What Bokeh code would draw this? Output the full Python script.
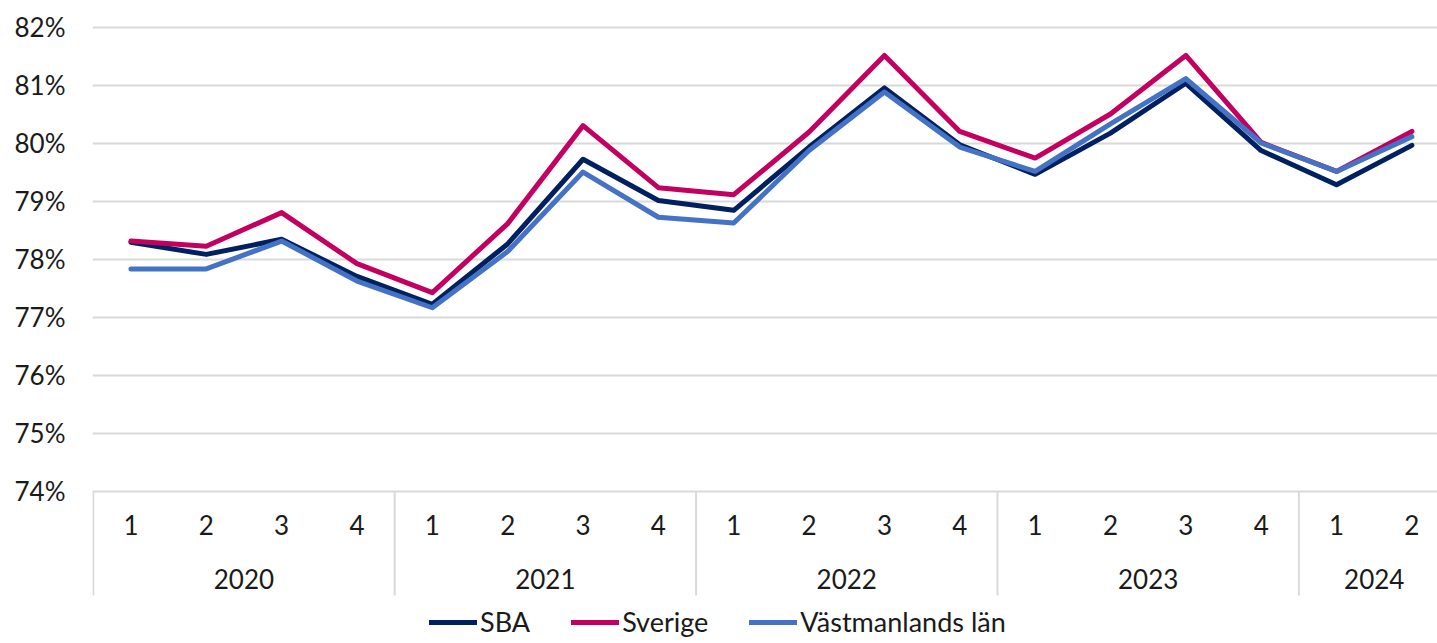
from bokeh.plotting import figure
from bokeh.models import Range1d, FixedTicker, Legend, LegendItem, PrintfTickFormatter
from bokeh.core.properties import value
from bokeh.embed import file_html
from bokeh.resources import INLINE

# ---- data ----
years = ["2020", "2021", "2022", "2023", "2024"]
quarters_per_year = [4, 4, 4, 4, 2]
quarter_labels = ["1", "2", "3", "4", "1", "2", "3", "4", "1", "2", "3", "4",
                  "1", "2", "3", "4", "1", "2"]
sba = [78.29, 78.08, 78.34, 77.70, 77.22, 78.26, 79.72, 79.01, 78.84,
       79.93, 80.95, 79.97, 79.46, 80.17, 81.03, 79.87, 79.28, 79.96]
sverige = [78.31, 78.22, 78.80, 77.92, 77.42, 78.61, 80.30, 79.23, 79.11,
           80.19, 81.51, 80.20, 79.74, 80.50, 81.51, 80.01, 79.51, 80.20]
vastmanland = [77.83, 77.83, 78.31, 77.62, 77.16, 78.13, 79.50, 78.72, 78.62,
               79.87, 80.88, 79.93, 79.51, 80.33, 81.11, 80.00, 79.51, 80.11]
y_ticks = [74, 75, 76, 77, 78, 79, 80, 81, 82]
series_names = ["SBA", "Sverige", "Västmanlands län"]
series_colors = ["#002060", "#C3005F", "#4472C4"]

FONT = "Lato"
TXT = "#1a1a1a"
GRID = "#d9d9d9"

x = list(range(len(quarter_labels)))

p = figure(width=1437, height=643, output_backend="svg", toolbar_location=None,
           x_range=Range1d(-0.51, 17.34), y_range=Range1d(71.371, 82.147),
           min_border_left=92, min_border_right=0, min_border_top=18, min_border_bottom=0)
p.outline_line_color = None
p.xaxis.visible = False
p.xgrid.visible = False

yax = p.yaxis[0]
yax.ticker = FixedTicker(ticks=y_ticks)
yax.formatter = PrintfTickFormatter(format="%d%%")
yax.axis_line_color = None
yax.major_tick_line_color = None
yax.minor_tick_line_color = None
yax.major_tick_out = 0
yax.major_tick_in = 0
yax.major_label_standoff = 27
yax.major_label_text_font = FONT
yax.major_label_text_font_size = "26px"
yax.major_label_text_color = TXT

p.ygrid.ticker = FixedTicker(ticks=y_ticks)
p.ygrid.grid_line_color = GRID
p.ygrid.grid_line_width = 2

# category labels (quarters and years) and group separators
base = y_ticks[0]
p.text(x=x, y=[base - 0.58] * len(x), text=quarter_labels, text_align="center",
       text_baseline="middle", text_font=value(FONT), text_font_size="26px", text_color=TXT)

year_centers = []
bounds = [-0.5]
start = 0
for n in quarters_per_year:
    year_centers.append(start + (n - 1) / 2)
    start += n
    bounds.append(start - 0.5)
p.text(x=year_centers, y=[base - 1.51] * len(years), text=years, text_align="center",
       text_baseline="middle", text_font=value(FONT), text_font_size="26px", text_color=TXT)
p.segment(x0=bounds, y0=[base] * len(bounds), x1=bounds, y1=[base - 1.80] * len(bounds),
          line_color=GRID, line_width=2)

renderers = []
for vals, col in zip([sba, sverige, vastmanland], series_colors):
    r = p.line(x=x, y=vals, line_color=col, line_width=5, line_join="round", line_cap="round")
    renderers.append(r)

legend = Legend(items=[LegendItem(label=n, renderers=[r]) for n, r in zip(series_names, renderers)],
                orientation="horizontal", location=(337, 5), glyph_width=48, glyph_height=26,
                label_standoff=3, spacing=41, padding=0, margin=0,
                border_line_color=None, background_fill_alpha=0,
                label_text_font=FONT, label_text_font_size="27px", label_text_color=TXT)
p.add_layout(legend)

open("out.html", "w").write(file_html(p, INLINE))
